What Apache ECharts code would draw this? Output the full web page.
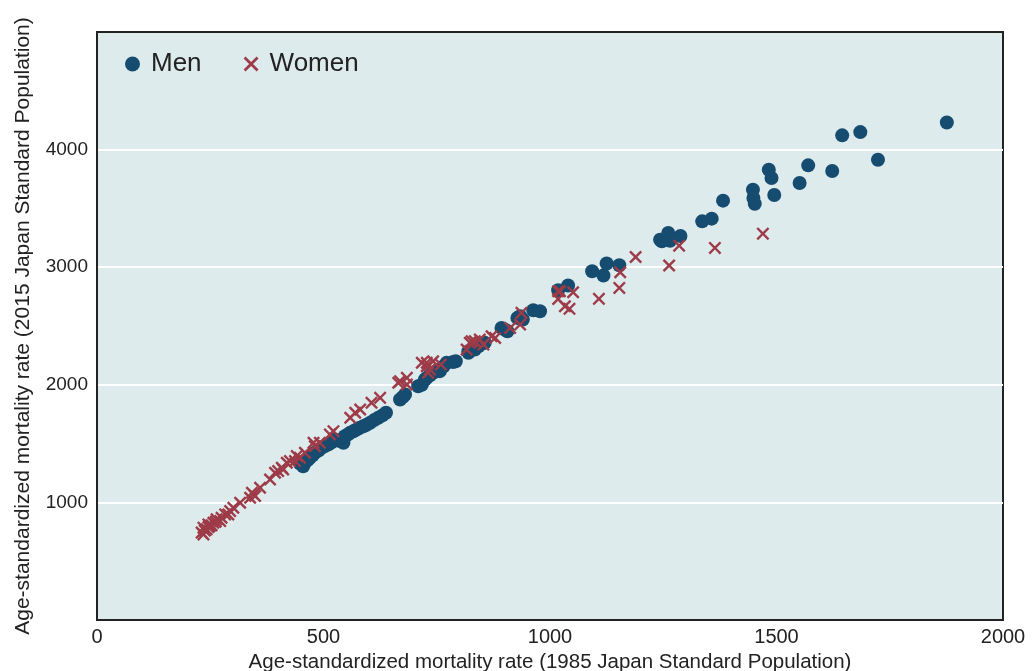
<!DOCTYPE html>
<html>
<head>
<meta charset="utf-8">
<script src="https://cdn.jsdelivr.net/npm/echarts@6/dist/echarts.min.js"></script>
<style>
html,body{margin:0;padding:0;background:#fff;}
#chart{width:1033px;height:671px;}
</style>
</head>
<body>
<div id="chart"></div>
<script>
// Data: [1985-standard rate, 2015-standard rate]
const men = [
  [448,1331],[455,1308],[459,1337],[465,1360],[470,1380],[476,1400],[481,1422],[489,1440],
  [496,1465],[503,1480],[511,1493],[518,1510],[525,1535],[538,1520],[544,1507],[547,1563],
  [553,1575],[559,1592],[566,1605],[573,1620],[580,1635],[588,1648],[595,1660],[603,1677],
  [612,1700],[621,1720],[630,1740],[638,1762],[669,1875],[675,1895],[680,1918],[709,1988],
  [717,2000],[724,2045],[728,2059],[735,2080],[742,2102],[750,2120],[757,2116],[765,2158],
  [772,2187],[786,2193],[792,2200],[820,2272],[820,2286],[834,2300],[842,2328],[850,2350],
  [856,2357],[893,2484],[900,2470],[906,2455],[928,2569],[940,2555],[934,2583],[963,2634],
  [978,2625],[1018,2804],[1040,2844],[1093,2965],[1118,2929],[1125,3031],[1153,3016],
  [1243,3234],[1247,3220],[1261,3291],[1265,3225],[1288,3265],[1336,3390],[1357,3413],
  [1382,3566],[1448,3659],[1449,3589],[1452,3540],[1483,3829],[1489,3759],[1495,3614],
  [1551,3716],[1570,3866],[1623,3818],[1645,4121],[1685,4149],[1724,3914],[1876,4231]
];
const women = [
  [235,728],[231,743],[238,760],[242,771],[235,785],[246,790],[249,799],[253,805],[246,813],
  [257,827],[262,835],[264,856],[272,841],[275,870],[283,898],[290,898],[294,926],[301,955],
  [316,997],[338,1040],[342,1082],[349,1054],[360,1125],[382,1195],[393,1252],[400,1266],
  [411,1280],[408,1295],[419,1337],[426,1351],[437,1351],[441,1394],[448,1380],[459,1422],
  [481,1478],[492,1507],[478,1507],[514,1578],[522,1606],[559,1720],[570,1762],[581,1790],
  [606,1847],[625,1889],[665,2017],[684,2003],[669,2031],[684,2059],[717,2187],[728,2158],
  [728,2187],[731,2102],[735,2130],[742,2200],[759,2172],[816,2300],[823,2357],[827,2371],
  [834,2371],[845,2385],[853,2342],[871,2413],[879,2399],[912,2484],[934,2512],[937,2612],
  [1018,2795],[1018,2730],[1022,2795],[1033,2668],[1043,2646],[1051,2787],[1108,2731],
  [1153,2824],[1155,2957],[1189,3087],[1263,3014],[1285,3183],[1364,3164],[1470,3285]
];
const xTicks = [0, 500, 1000, 1500, 2000];
const yTicks = [1000, 2000, 3000, 4000];

const crossPath = 'path://M0,1.3L1.3,0L5,3.7L8.7,0L10,1.3L6.3,5L10,8.7L8.7,10L5,6.3L1.3,10L0,8.7L3.7,5Z';
const FONT = '"Liberation Sans", Arial, Helvetica, sans-serif';

const chart = echarts.init(document.getElementById('chart'), null, {renderer: 'canvas'});
chart.setOption({
  animation: false,
  backgroundColor: '#ffffff',
  textStyle: {fontFamily: FONT},
  grid: {
    left: 97, right: 30, top: 32, bottom: 51,
    containLabel: false, outerBoundsMode: 'none',
    show: true, backgroundColor: '#deebec', borderColor: '#222222', borderWidth: 2
  },
  legend: {
    left: 120, top: 46,
    itemWidth: 15, itemHeight: 15, itemGap: 42,
    textStyle: {fontSize: 26, color: '#222', fontFamily: FONT, padding: [0, 0, 0, 6]},
    data: [
      {name: 'Men', icon: 'circle'},
      {name: 'Women', icon: crossPath}
    ]
  },
  xAxis: {
    type: 'value', min: 0, max: 2000, interval: 500,
    name: 'Age-standardized mortality rate (1985 Japan Standard Population)',
    nameLocation: 'middle', nameGap: 27,
    nameTextStyle: {fontSize: 20.5, color: '#222', fontFamily: FONT},
    axisLine: {show: true, lineStyle: {color: '#222', width: 2}},
    axisTick: {show: false},
    splitLine: {show: false},
    axisLabel: {fontSize: 20, color: '#222', margin: 7,
      formatter: v => xTicks.includes(v) ? String(v) : ''}
  },
  yAxis: {
    type: 'value', min: 0, max: 5000, interval: 1000,
    name: 'Age-standardized mortality rate (2015 Japan Standard Population)',
    nameLocation: 'middle', nameGap: 63,
    nameTextStyle: {fontSize: 21, color: '#222', fontFamily: FONT},
    axisLine: {show: true, lineStyle: {color: '#222', width: 2}},
    axisTick: {show: false},
    splitLine: {show: true, showMinLine: false, showMaxLine: false,
      lineStyle: {color: '#ffffff', width: 2}},
    axisLabel: {fontSize: 19, color: '#222', margin: 9,
      formatter: v => yTicks.includes(v) ? String(v) : ''}
  },
  series: [
    {
      name: 'Men', type: 'scatter', data: men,
      symbol: 'circle', symbolSize: 14,
      itemStyle: {color: '#154c70', opacity: 1}
    },
    {
      name: 'Women', type: 'scatter', data: women,
      symbol: crossPath, symbolSize: 13,
      itemStyle: {color: '#9e3b48', opacity: 1}
    }
  ]
});
</script>
</body>
</html>
